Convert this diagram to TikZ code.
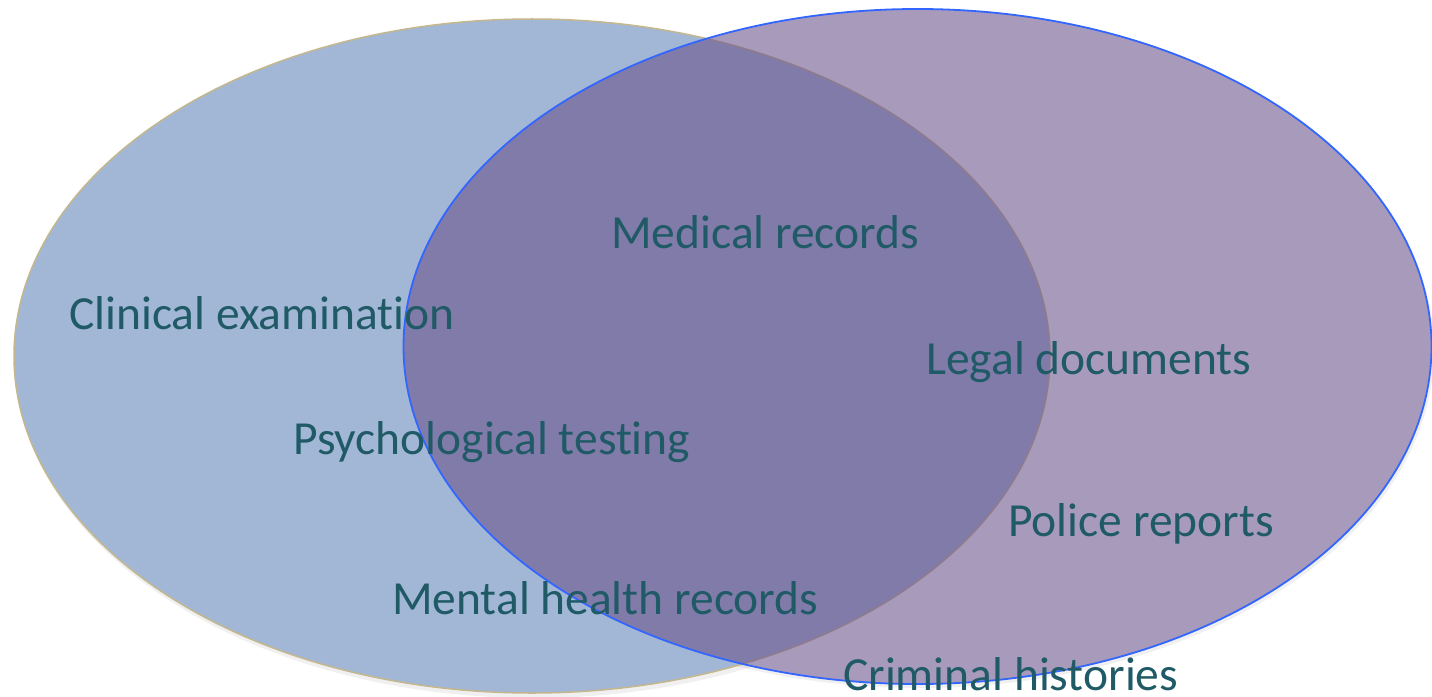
\documentclass[tikz,border=0pt]{standalone}
\usepackage{fontspec}
\setmainfont[Ligatures=NoCommon]{Carlito}
\definecolor{leftfill}{HTML}{A2B7D6}
\definecolor{leftedge}{HTML}{C4B78E}
\definecolor{rightfill}{HTML}{69518A}
\definecolor{rightedge}{HTML}{3366FF}
\definecolor{labelcol}{HTML}{1F5A66}
\begin{document}
\begin{tikzpicture}[x=1bp,y=-1bp,
  lbl/.style={anchor=base west,inner sep=0pt,text=labelcol,font=\fontsize{47.5bp}{57bp}\selectfont}]
\useasboundingbox (0,0) rectangle (1432,697);
\fill[gray,opacity=0.12] (534,360) ellipse [x radius=519,y radius=338];
\fill[gray,opacity=0.12] (919,350) ellipse [x radius=515,y radius=338];
\fill[white] (532,356) ellipse [x radius=518,y radius=337];
\fill[white] (917.5,346.5) ellipse [x radius=514,y radius=337.5];
\draw[fill=leftfill,draw=leftedge,line width=1.5bp] (532,356) ellipse [x radius=518,y radius=337];
\draw[fill=rightfill,fill opacity=0.58,draw=rightedge,line width=1.8bp] (917.5,346.5) ellipse [x radius=514,y radius=337.5];
\node[lbl] (med) at (611,248) {Medical records};
\node[lbl] (clin) at (69,329) {Clinical examination};
\node[lbl] (legal) at (926,374) {Legal documents};
\node[lbl] (psych) at (293,454) {Psychological testing};
\node[lbl] (police) at (1008,536) {Police reports};
\node[lbl] (mental) at (392,614) {Mental health records};
\node[lbl] (crim) at (843,690) {Criminal histories};
\end{tikzpicture}
\end{document}
